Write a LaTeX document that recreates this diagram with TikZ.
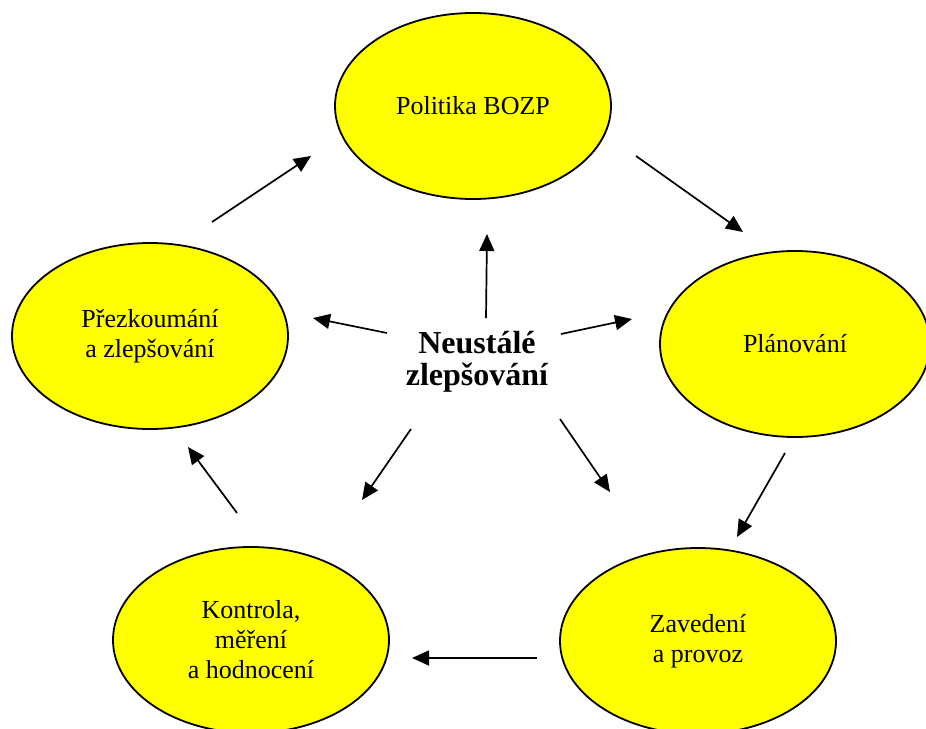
\documentclass[tikz,border=0pt]{standalone}
\usepackage{fontspec}
\setmainfont{Liberation Serif}
\usetikzlibrary{shapes.geometric,arrows.meta}
\definecolor{stageyellow}{RGB}{255,255,0}

\begin{document}
\begin{tikzpicture}[x=1pt, y=-1pt,
	stage/.style={ellipse, draw, line width=1.8pt, fill=stageyellow,
		minimum width=276pt, minimum height=186pt, inner sep=0pt,
		align=center, font=\fontsize{26}{30}\selectfont},
	flow/.style={line width=1.7pt, -{Triangle[length=17pt,width=15pt]}}]

	% ---- frame

	\useasboundingbox (0,0) rectangle (926,728);

	% ---- stages

	\node[stage] (politika) at (473,106) {Politika BOZP};
	\node[stage, minimum width=270pt] (planovani) at (795,344) {Plánování};
	\node[stage] (zavedeni) at (698,641) {Zavedení\\a provoz};
	\node[stage] (kontrola) at (251,640) {Kontrola,\\měření\\a hodnocení};
	\node[stage] (prezkum) at (150,336) {Přezkoumání\\a zlepšování};

	% ---- centre

	\node[align=center, font=\fontsize{32}{32}\selectfont\bfseries] (stred) at (477,362)
		{Neustálé\\zlepšování};

	% ---- arrow ends

	\coordinate (c1s) at (212,222); \coordinate (c1e) at (311,156);
	\coordinate (c2s) at (636,156); \coordinate (c2e) at (743,232);
	\coordinate (c3s) at (785,453); \coordinate (c3e) at (737,537);
	\coordinate (c4s) at (537,658); \coordinate (c4e) at (412,658);
	\coordinate (c5s) at (237,513); \coordinate (c5e) at (188,447);

	\coordinate (s1s) at (486,318); \coordinate (s1e) at (487,234);
	\coordinate (s2s) at (561,334); \coordinate (s2e) at (632,319);
	\coordinate (s3s) at (560,419); \coordinate (s3e) at (610,492);
	\coordinate (s4s) at (411,429); \coordinate (s4e) at (362,500);
	\coordinate (s5s) at (387,333); \coordinate (s5e) at (313,318);

	% ---- arrows

	\foreach \i in {1,...,5} {
		\draw[flow] (c\i s) -- (c\i e);
		\draw[flow] (s\i s) -- (s\i e);
	}

\end{tikzpicture}
\end{document}
